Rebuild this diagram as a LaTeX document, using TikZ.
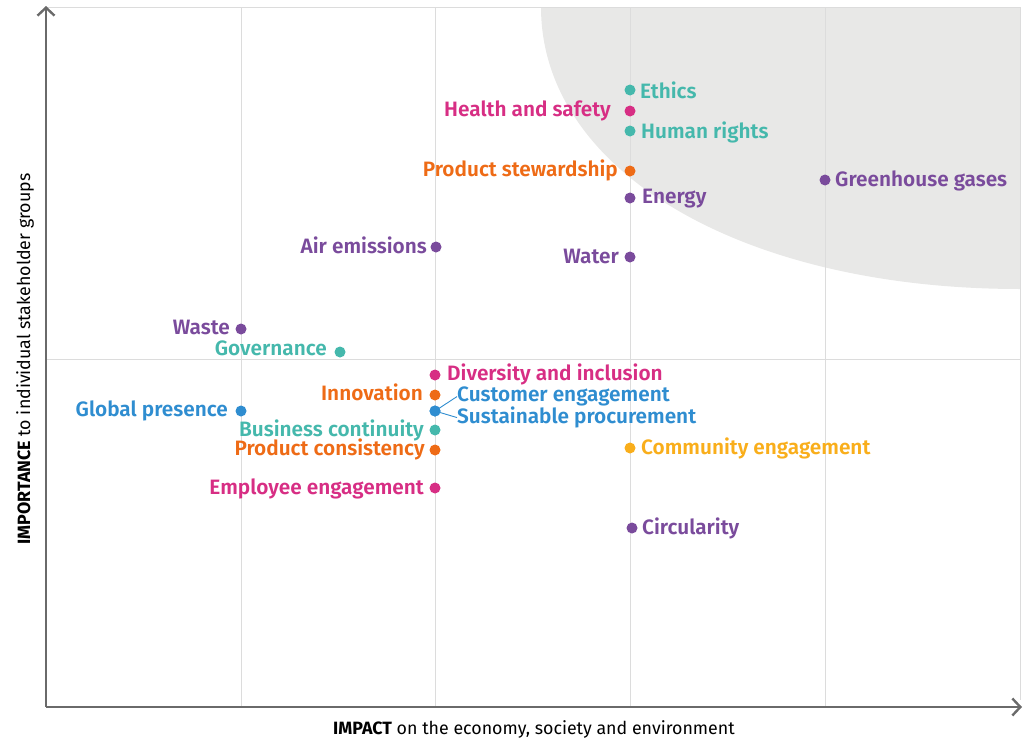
\documentclass[tikz,border=0pt]{standalone}
\usepackage{fontspec}
\setmainfont{Fira Sans}
\newfontfamily\labfont{Fira Sans SemiBold}
\usetikzlibrary{arrows.meta}
\definecolor{cteal}{HTML}{45B8AC}
\definecolor{cmag}{HTML}{D72E84}
\definecolor{corange}{HTML}{EE6B16}
\definecolor{cpurple}{HTML}{7A4B9C}
\definecolor{cblue}{HTML}{2F8DD0}
\definecolor{camber}{HTML}{F9AE1B}
\definecolor{cshade}{HTML}{E8E8E7}
\definecolor{cgrid}{HTML}{DCDCDC}
\definecolor{caxis}{HTML}{6A6A6A}
\begin{document}
\begin{tikzpicture}[x=1pt,y=-1pt,
  dot/.style={circle,fill=#1,inner sep=0pt,minimum size=11pt},
  lab/.style={font=\labfont\fontsize{20.8}{23}\selectfont,text=#1,inner sep=0pt,yshift=-4pt},
  gridline/.style={draw=cgrid,line width=1pt},
  axisline/.style={draw=caxis,line width=2.4pt,-{Straight Barb[length=8pt,width=17pt]}},
  axislabel/.style={font=\fontsize{17.8}{20}\selectfont,text=black,inner sep=0pt},
  link/.style={draw=cblue,line width=0.9pt},
]
\useasboundingbox (0,0) rectangle (1029,739);
% shaded area
\fill[cshade] (541,7) .. controls (541,170) and (740,289) .. (1020,289) -- (1020,7) -- cycle;
% grid
\coordinate (g0t) at (46,7);
\coordinate (g5t) at (1020,7);
\coordinate (g5b) at (1020,700);
\coordinate (gmL) at (46,359);
\coordinate (gmR) at (1020,359);
\draw[gridline] (g0t) -- (g5t) -- (g5b);
\draw[gridline] (gmL) -- (gmR);
\foreach \gx/\gn in {241/a,435/b,630/c,825/d}{
  \coordinate (v\gn t) at (\gx,7);
  \coordinate (v\gn b) at (\gx,706);
  \draw[gridline] (v\gn t) -- (v\gn b);
}
% axes
\coordinate (o) at (46,707);
\coordinate (ytop) at (46,6);
\coordinate (xend) at (1022,707);
\draw[axisline] (o) -- (ytop);
\draw[axisline] (o) -- (xend);
\node[axislabel] (xlab) at (534,729) {\textbf{IMPACT} on the economy, society and environment};
\node[axislabel,rotate=90] (ylab) at (25,359) {\textbf{IMPORTANCE} to individual stakeholder groups};
% points
\node[dot=cteal] (dEth) at (630,90) {};
\node[lab=cteal,anchor=mid west] (lEth) at (640,92) {Ethics};
\node[dot=cmag] (dHS) at (630,111) {};
\node[lab=cmag,anchor=mid east] (lHS) at (611,110) {Health and safety};
\node[dot=cteal] (dHR) at (630,131) {};
\node[lab=cteal,anchor=mid west] (lHR) at (641,132) {Human rights};
\node[dot=corange] (dPS) at (630,171) {};
\node[lab=corange,anchor=mid east] (lPS) at (618,170) {Product stewardship};
\node[dot=cpurple] (dEn) at (630,198) {};
\node[lab=cpurple,anchor=mid west] (lEn) at (642,197) {Energy};
\node[dot=cpurple] (dGH) at (825,180) {};
\node[lab=cpurple,anchor=mid west] (lGH) at (835,180) {Greenhouse gases};
\node[dot=cpurple] (dAir) at (436,247) {};
\node[lab=cpurple,anchor=mid east] (lAir) at (427,247) {Air emissions};
\node[dot=cpurple] (dWat) at (630,257) {};
\node[lab=cpurple,anchor=mid east] (lWat) at (619,257) {Water};
\node[dot=cpurple] (dWas) at (241,329) {};
\node[lab=cpurple,anchor=mid east] (lWas) at (230,328) {Waste};
\node[dot=cteal] (dGov) at (340,352) {};
\node[lab=cteal,anchor=mid east] (lGov) at (327,349) {Governance};
\node[dot=cmag] (dDiv) at (435,375) {};
\node[lab=cmag,anchor=mid west] (lDiv) at (447,374) {Diversity and inclusion};
\node[dot=corange] (dInn) at (435,395) {};
\node[lab=corange,anchor=mid east] (lInn) at (423,394) {Innovation};
\node[dot=cblue] (dCE) at (435,411) {};
\node[lab=cblue,anchor=mid west] (lCE) at (457,395) {Customer engagement};
\node[lab=cblue,anchor=mid west] (lSP) at (457,417) {Sustainable procurement};
\draw[link] (dCE.center) -- (lCE.west);
\draw[link] (dCE.center) -- (lSP.west);
\node[dot=cblue] at (dCE) {};
\node[dot=cblue] (dGP) at (241,411) {};
\node[lab=cblue,anchor=mid east] (lGP) at (228,410) {Global presence};
\node[dot=cteal] (dBC) at (435,430) {};
\node[lab=cteal,anchor=mid east] (lBC) at (424,430) {Business continuity};
\node[dot=corange] (dPC) at (435,450) {};
\node[lab=corange,anchor=mid east] (lPC) at (425,449) {Product consistency};
\node[dot=camber] (dCom) at (630,448) {};
\node[lab=camber,anchor=mid west] (lCom) at (641,448) {Community engagement};
\node[dot=cmag] (dEmp) at (435,488) {};
\node[lab=cmag,anchor=mid east] (lEmp) at (424,488) {Employee engagement};
\node[dot=cpurple] (dCir) at (632,528) {};
\node[lab=cpurple,anchor=mid west] (lCir) at (642,528) {Circularity};
\end{tikzpicture}
\end{document}
